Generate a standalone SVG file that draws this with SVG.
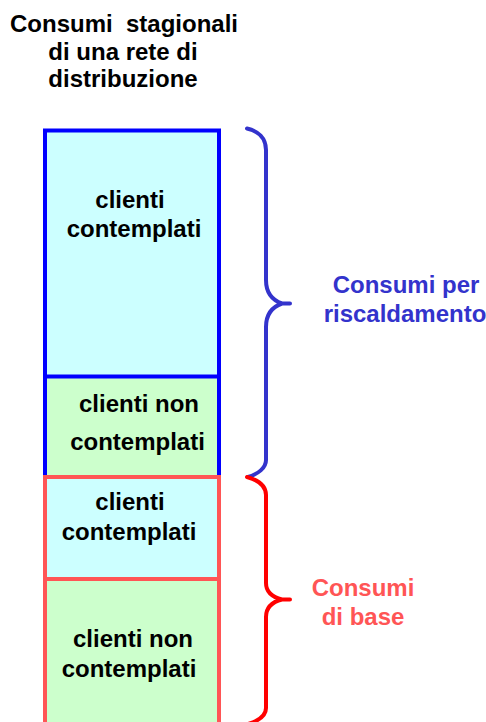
<svg xmlns="http://www.w3.org/2000/svg" width="486" height="722" viewBox="0 0 486 722">
<style>
text{font-family:"Liberation Sans",Arial,sans-serif;font-weight:bold;font-size:24px;text-anchor:middle;white-space:pre}
.blk{fill:#000}
.cyan{fill:#ccffff}
.green{fill:#ccffcc}
.bbox{stroke:#0000ff;stroke-width:4;fill:none}
.rbox{stroke:#ff5555;stroke-width:4;fill:none}
.brace{fill:none;stroke-width:4;stroke-linecap:round;stroke-linejoin:round}
</style>
<rect width="486" height="722" fill="#ffffff"/>
<g id="title">
<text class="blk" x="124" y="32" xml:space="preserve">Consumi  stagionali</text>
<text class="blk" x="123" y="60">di una rete di</text>
<text class="blk" x="123" y="87">distribuzione</text>
</g>
<g id="riscaldamento-contemplati">
<rect class="cyan" x="45" y="130.5" width="174" height="246"/>
<text class="blk" x="130" y="208">clienti</text>
<text class="blk" x="134" y="237">contemplati</text>
</g>
<g id="riscaldamento-non-contemplati">
<rect class="green" x="45" y="376.5" width="174" height="100.5"/>
<text class="blk" x="139" y="412">clienti non</text>
<text class="blk" x="137.5" y="450">contemplati</text>
</g>
<g id="riscaldamento-frame">
<path class="bbox" d="M45,477 L45,130.5 L219,130.5 L219,477 M45,376.5 L219,376.5"/>
</g>
<g id="base-contemplati">
<rect class="cyan" x="45" y="477" width="174" height="102"/>
<text class="blk" x="130" y="510">clienti</text>
<text class="blk" x="129" y="540">contemplati</text>
</g>
<g id="base-non-contemplati">
<rect class="green" x="45" y="579" width="174" height="150"/>
<text class="blk" x="133" y="647">clienti non</text>
<text class="blk" x="129" y="677">contemplati</text>
</g>
<g id="base-frame">
<path class="rbox" d="M45,730 L45,477 L219,477 L219,730 M45,579 L219,579"/>
</g>
<g id="connectors">
<path class="brace" stroke="#3333cc" d="M247,128.5 C258,131 266,138 266,150 L266,280 C266,292 272,300 282,303.5 L290,303.5 M282,303.5 C272,307 266,315 266,327 L266,460 C266,468 258,474 248,477"/>
<path class="brace" stroke="#ff0000" d="M247,477 C258,480 266,485 266,495 L266,583 C266,592 272,597 282,599.5 L290,599.5 M282,599.5 C272,602 266,608 266,617 L266,708 C266,716 258,721 248,724"/>
</g>
<g id="label-riscaldamento">
<text x="406" y="293" fill="#3333cc">Consumi per</text>
<text x="405" y="322" fill="#3333cc">riscaldamento</text>
</g>
<g id="label-base">
<text x="363" y="596" fill="#ff5555">Consumi</text>
<text x="363" y="625" fill="#ff5555">di base</text>
</g>
</svg>
